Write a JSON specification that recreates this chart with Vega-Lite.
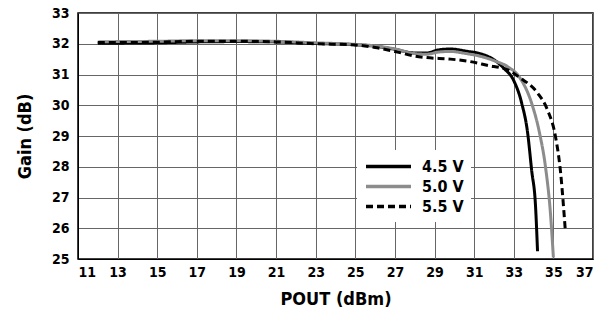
{
  "$schema": "https://vega.github.io/schema/vega-lite/v6.json",
  "width": 515,
  "height": 246,
  "autosize": {"type": "none"},
  "padding": {"left": 78, "top": 13, "right": 18, "bottom": 63},
  "background": "white",
  "config": {
    "font": "DejaVu Sans Condensed",
    "view": {"stroke": "black", "strokeWidth": 1.5},
    "axis": {
      "labelFont": "DejaVu Sans Condensed",
      "labelFontWeight": "bold",
      "labelFontSize": 14,
      "labelColor": "black",
      "titleFont": "DejaVu Sans Condensed",
      "titleFontWeight": "bold",
      "titleFontSize": 18,
      "titleColor": "black",
      "gridColor": "#666666",
      "gridWidth": 1,
      "gridOpacity": 1,
      "domainColor": "black",
      "ticks": false
    }
  },
  "data": {
    "values": [
      {"p": 12, "g": 32.02, "s": "4.5 V"},
      {"p": 13, "g": 32.02, "s": "4.5 V"},
      {"p": 15, "g": 32.03, "s": "4.5 V"},
      {"p": 17, "g": 32.06, "s": "4.5 V"},
      {"p": 19, "g": 32.07, "s": "4.5 V"},
      {"p": 21, "g": 32.06, "s": "4.5 V"},
      {"p": 23, "g": 32.01, "s": "4.5 V"},
      {"p": 25, "g": 31.97, "s": "4.5 V"},
      {"p": 26, "g": 31.92, "s": "4.5 V"},
      {"p": 27, "g": 31.82, "s": "4.5 V"},
      {"p": 28, "g": 31.7, "s": "4.5 V"},
      {"p": 28.6, "g": 31.7, "s": "4.5 V"},
      {"p": 29.2, "g": 31.8, "s": "4.5 V"},
      {"p": 29.8, "g": 31.83, "s": "4.5 V"},
      {"p": 30.6, "g": 31.76, "s": "4.5 V"},
      {"p": 31.4, "g": 31.66, "s": "4.5 V"},
      {"p": 32, "g": 31.48, "s": "4.5 V"},
      {"p": 32.5, "g": 31.2, "s": "4.5 V"},
      {"p": 33, "g": 30.8, "s": "4.5 V"},
      {"p": 33.4, "g": 30.07, "s": "4.5 V"},
      {"p": 33.7, "g": 29.1, "s": "4.5 V"},
      {"p": 33.9, "g": 27.9, "s": "4.5 V"},
      {"p": 34.1, "g": 26.7, "s": "4.5 V"},
      {"p": 34.2, "g": 25.25, "s": "4.5 V"},

      {"p": 12, "g": 32.06, "s": "5.0 V"},
      {"p": 13, "g": 32.07, "s": "5.0 V"},
      {"p": 15, "g": 32.08, "s": "5.0 V"},
      {"p": 17, "g": 32.1, "s": "5.0 V"},
      {"p": 19, "g": 32.1, "s": "5.0 V"},
      {"p": 21, "g": 32.08, "s": "5.0 V"},
      {"p": 23, "g": 32.03, "s": "5.0 V"},
      {"p": 25, "g": 31.98, "s": "5.0 V"},
      {"p": 26, "g": 31.93, "s": "5.0 V"},
      {"p": 27, "g": 31.83, "s": "5.0 V"},
      {"p": 28, "g": 31.68, "s": "5.0 V"},
      {"p": 28.6, "g": 31.66, "s": "5.0 V"},
      {"p": 29.2, "g": 31.73, "s": "5.0 V"},
      {"p": 29.8, "g": 31.75, "s": "5.0 V"},
      {"p": 30.6, "g": 31.68, "s": "5.0 V"},
      {"p": 31.4, "g": 31.58, "s": "5.0 V"},
      {"p": 32, "g": 31.45, "s": "5.0 V"},
      {"p": 32.7, "g": 31.25, "s": "5.0 V"},
      {"p": 33.3, "g": 30.9, "s": "5.0 V"},
      {"p": 33.9, "g": 30.07, "s": "5.0 V"},
      {"p": 34.3, "g": 29.1, "s": "5.0 V"},
      {"p": 34.6, "g": 28.0, "s": "5.0 V"},
      {"p": 34.85, "g": 26.5, "s": "5.0 V"},
      {"p": 35.0, "g": 25.05, "s": "5.0 V"},

      {"p": 12, "g": 32.04, "s": "5.5 V"},
      {"p": 13, "g": 32.04, "s": "5.5 V"},
      {"p": 15, "g": 32.05, "s": "5.5 V"},
      {"p": 17, "g": 32.08, "s": "5.5 V"},
      {"p": 19, "g": 32.08, "s": "5.5 V"},
      {"p": 21, "g": 32.06, "s": "5.5 V"},
      {"p": 23, "g": 32.0, "s": "5.5 V"},
      {"p": 25, "g": 31.96, "s": "5.5 V"},
      {"p": 26, "g": 31.88, "s": "5.5 V"},
      {"p": 27, "g": 31.75, "s": "5.5 V"},
      {"p": 28, "g": 31.6, "s": "5.5 V"},
      {"p": 28.6, "g": 31.55, "s": "5.5 V"},
      {"p": 29.8, "g": 31.5, "s": "5.5 V"},
      {"p": 30.8, "g": 31.42, "s": "5.5 V"},
      {"p": 31.65, "g": 31.3, "s": "5.5 V"},
      {"p": 32.7, "g": 31.15, "s": "5.5 V"},
      {"p": 33.3, "g": 30.9, "s": "5.5 V"},
      {"p": 34.2, "g": 30.4, "s": "5.5 V"},
      {"p": 34.7, "g": 29.85, "s": "5.5 V"},
      {"p": 35.1, "g": 29.0, "s": "5.5 V"},
      {"p": 35.35, "g": 27.9, "s": "5.5 V"},
      {"p": 35.6, "g": 25.95, "s": "5.5 V"}
    ]
  },
  "mark": {"type": "line", "strokeWidth": 3, "interpolate": "monotone"},
  "encoding": {
    "x": {
      "field": "p", "type": "quantitative",
      "scale": {"domain": [11, 37], "nice": false, "zero": false},
      "axis": {"values": [11, 13, 15, 17, 19, 21, 23, 25, 27, 29, 31, 33, 35, 37], "title": "POUT (dBm)", "labelPadding": 6, "titlePadding": 11}
    },
    "y": {
      "field": "g", "type": "quantitative",
      "scale": {"domain": [25, 33], "nice": false, "zero": false},
      "axis": {"values": [25, 26, 27, 28, 29, 30, 31, 32, 33], "title": "Gain (dB)", "labelPadding": 9, "titlePadding": 17}
    },
    "color": {
      "field": "s", "type": "nominal",
      "scale": {"domain": ["4.5 V", "5.0 V", "5.5 V"], "range": ["#000000", "#8c8c8c", "#000000"]},
      "legend": {
        "title": null,
        "orient": "none",
        "legendX": 279,
        "legendY": 137,
        "fillColor": "white",
        "padding": 7,
        "symbolType": "M-1,0H5",
        "symbolSize": 225,
        "symbolStrokeWidth": 3.5,
        "labelFont": "DejaVu Sans Condensed",
        "labelFontWeight": "bold",
        "labelFontSize": 16,
        "labelColor": "black",
        "labelOffset": 39,
        "rowPadding": 2
      }
    },
    "strokeDash": {
      "field": "s", "type": "nominal",
      "scale": {"domain": ["4.5 V", "5.0 V", "5.5 V"], "range": [[1, 0], [1, 0], [7, 4]]},
      "legend": {"title": null}
    }
  }
}
